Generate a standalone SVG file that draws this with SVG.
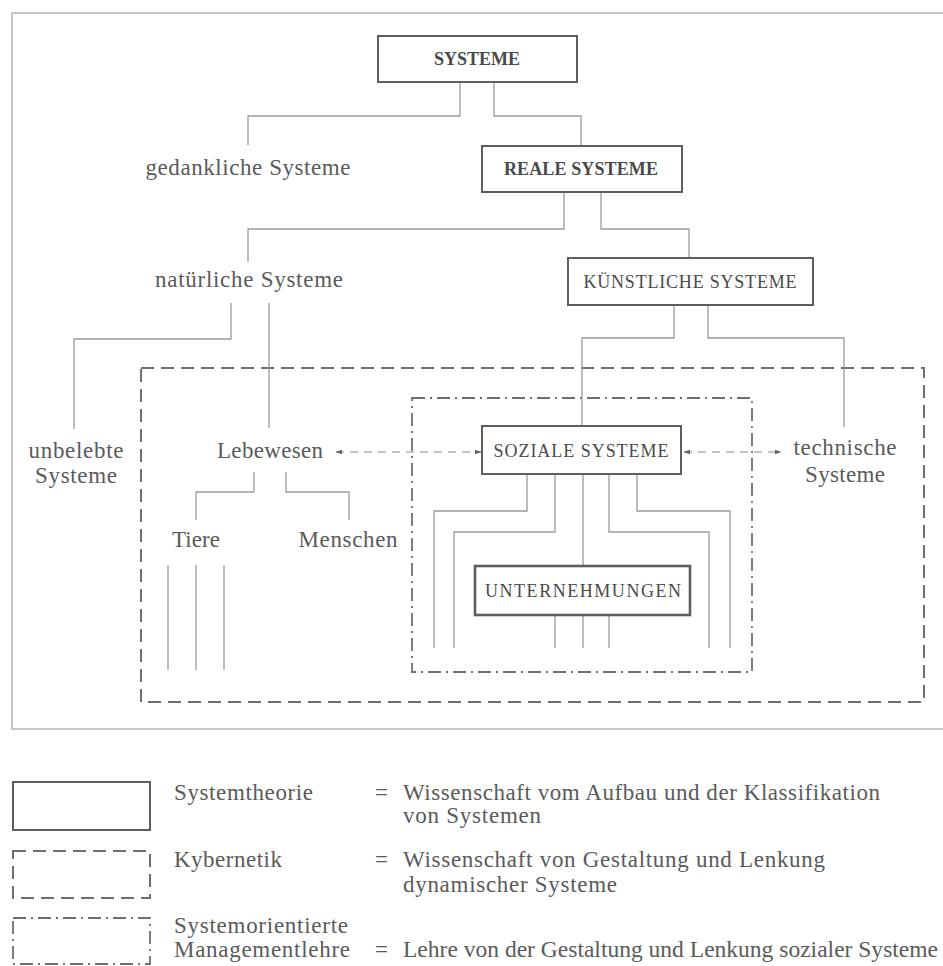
<svg xmlns="http://www.w3.org/2000/svg" width="943" height="966" viewBox="0 0 943 966">
  <defs>
    <style>
      .frame { fill: none; stroke: #b4b4b4; stroke-width: 1.5; }
      .box { fill: #ffffff; stroke: #5e5e5e; stroke-width: 2; }
      .box-heavy { fill: #ffffff; stroke: #5e5e5e; stroke-width: 2.6; }
      .kyb { fill: none; stroke: #707070; stroke-width: 2; stroke-dasharray: 13 7; }
      .sml { fill: none; stroke: #707070; stroke-width: 1.8; stroke-dasharray: 13 5 2 5; }
      .link { fill: none; stroke: #9a9a9a; stroke-width: 1.3; }
      .flow { fill: none; stroke: #8a8a8a; stroke-width: 1.2; stroke-dasharray: 8 6; }
      .cap { font-family: "Liberation Serif", "Times New Roman", serif; font-size: 18px; fill: #4a4a4a; text-anchor: middle; }
      .lbl { font-family: "Liberation Serif", "Times New Roman", serif; font-size: 23px; fill: #5a5a5a; }
      .mid { text-anchor: middle; }
    </style>
    <marker id="arr" viewBox="0 0 10 10" refX="9" refY="5" markerWidth="7" markerHeight="7" orient="auto-start-reverse" markerUnits="userSpaceOnUse">
      <path d="M0,1.5 L10,5 L0,8.5 Z" fill="#666"/>
    </marker>
  </defs>

  <rect width="943" height="966" fill="#ffffff"/>

  <!-- outer frame of the classification chart -->
  <rect class="frame" x="12" y="13" width="945" height="716"/>

  <!-- discipline regions -->
  <g id="region-kybernetik">
    <rect class="kyb" x="141" y="368" width="783" height="334"/>
  </g>
  <g id="region-managementlehre">
    <rect class="sml" x="412" y="398" width="340" height="274"/>
  </g>

  <!-- tree connectors -->
  <g id="connectors">
    <path class="link" d="M460,82 V116 H248 V145"/>
    <path class="link" d="M494,82 V116 H581 V146"/>
    <path class="link" d="M564,192 V229 H248 V262"/>
    <path class="link" d="M601,192 V229 H689 V258"/>
    <path class="link" d="M231,303 V339 H74 V429"/>
    <path class="link" d="M269,303 V428"/>
    <path class="link" d="M674,305 V338 H582 V426"/>
    <path class="link" d="M708,305 V338 H844 V427"/>
    <path class="link" d="M254,472 V492 H196 V520"/>
    <path class="link" d="M286,472 V492 H349 V520"/>
    <path class="link" d="M168,565 V670 M196,565 V670 M224,565 V670"/>
    <path class="link" d="M527,474 V511 H434 V648"/>
    <path class="link" d="M555,474 V532 H454 V648"/>
    <path class="link" d="M583,474 V566"/>
    <path class="link" d="M609,474 V532 H709 V648"/>
    <path class="link" d="M637,474 V511 H730 V648"/>
    <path class="link" d="M555,615 V648 M583,615 V648 M609,615 V648"/>
    <path class="flow" d="M336,452 H481" marker-start="url(#arr)" marker-end="url(#arr)"/>
    <path class="flow" d="M684,452 H781" marker-start="url(#arr)" marker-end="url(#arr)"/>
  </g>

  <!-- nodes -->
  <g id="systeme">
    <rect class="box" x="378" y="36" width="199" height="46"/>
    <text class="cap" x="477" y="65" font-weight="bold" textLength="86" lengthAdjust="spacingAndGlyphs">SYSTEME</text>
  </g>
  <g id="gedankliche-systeme">
    <text class="lbl mid" x="248" y="175" textLength="205" lengthAdjust="spacing">gedankliche Systeme</text>
  </g>
  <g id="reale-systeme">
    <rect class="box" x="482" y="146" width="200" height="46"/>
    <text class="cap" x="581" y="175" font-weight="bold" textLength="154" lengthAdjust="spacing">REALE SYSTEME</text>
  </g>
  <g id="natuerliche-systeme">
    <text class="lbl mid" x="249" y="287" textLength="188" lengthAdjust="spacing">natürliche Systeme</text>
  </g>
  <g id="kuenstliche-systeme">
    <rect class="box" x="568" y="258" width="245" height="47"/>
    <text class="cap" x="690" y="288" textLength="213" lengthAdjust="spacing">KÜNSTLICHE SYSTEME</text>
  </g>
  <g id="unbelebte-systeme">
    <text class="lbl mid" x="76" y="458" textLength="95" lengthAdjust="spacing">unbelebte</text>
    <text class="lbl mid" x="76" y="483" textLength="82" lengthAdjust="spacing">Systeme</text>
  </g>
  <g id="lebewesen">
    <text class="lbl mid" x="270" y="458" textLength="106" lengthAdjust="spacing">Lebewesen</text>
  </g>
  <g id="soziale-systeme">
    <rect class="box" x="482" y="426" width="199" height="48"/>
    <text class="cap" x="581" y="457" textLength="175" lengthAdjust="spacing">SOZIALE SYSTEME</text>
  </g>
  <g id="technische-systeme">
    <text class="lbl mid" x="845" y="455" textLength="103" lengthAdjust="spacing">technische</text>
    <text class="lbl mid" x="845" y="482" textLength="80" lengthAdjust="spacing">Systeme</text>
  </g>
  <g id="tiere">
    <text class="lbl mid" x="196" y="547" textLength="48" lengthAdjust="spacing">Tiere</text>
  </g>
  <g id="menschen">
    <text class="lbl mid" x="348" y="547" textLength="99" lengthAdjust="spacing">Menschen</text>
  </g>
  <g id="unternehmungen">
    <rect class="box-heavy" x="475" y="566" width="215" height="49"/>
    <text class="cap" x="583" y="597" textLength="196" lengthAdjust="spacing">UNTERNEHMUNGEN</text>
  </g>

  <!-- legend -->
  <g id="legend">
    <rect class="box" x="13" y="782" width="137" height="48"/>
    <rect class="kyb" x="13" y="851" width="137" height="47"/>
    <rect class="sml" x="13" y="918" width="137" height="46"/>
    <text class="lbl" x="174" y="800" textLength="139" lengthAdjust="spacing">Systemtheorie</text>
    <text class="lbl" x="174" y="867" textLength="108" lengthAdjust="spacing">Kybernetik</text>
    <text class="lbl" x="174" y="933" textLength="174" lengthAdjust="spacing">Systemorientierte</text>
    <text class="lbl" x="174" y="957" textLength="176" lengthAdjust="spacing">Managementlehre</text>
    <text class="lbl" x="375" y="800">=</text>
    <text class="lbl" x="375" y="867">=</text>
    <text class="lbl" x="375" y="957">=</text>
    <text class="lbl" x="403" y="800" textLength="477" lengthAdjust="spacing">Wissenschaft vom Aufbau und der Klassifikation</text>
    <text class="lbl" x="403" y="823" textLength="138" lengthAdjust="spacing">von Systemen</text>
    <text class="lbl" x="403" y="867" textLength="422" lengthAdjust="spacing">Wissenschaft von Gestaltung und Lenkung</text>
    <text class="lbl" x="403" y="892" textLength="214" lengthAdjust="spacing">dynamischer Systeme</text>
    <text class="lbl" x="403" y="957" textLength="535" lengthAdjust="spacingAndGlyphs">Lehre von der Gestaltung und Lenkung sozialer Systeme</text>
  </g>
</svg>
